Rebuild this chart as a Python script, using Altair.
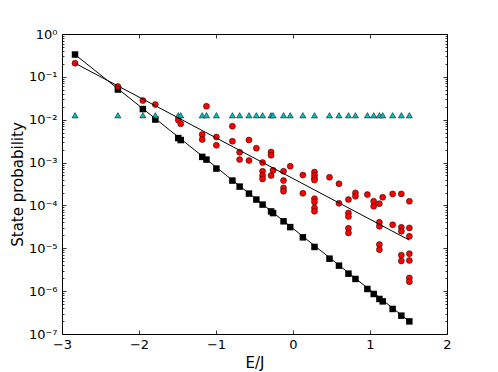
import altair as alt
import pandas as pd

# ---------------- data ----------------
energy = [-2.831, -2.274, -1.950, -1.788, -1.490, -1.458, -1.179, -1.124, -0.995, -0.787,
          -0.693, -0.572, -0.476, -0.395, -0.285, -0.259, -0.123, -0.036, 0.128, 0.279,
          0.474, 0.597, 0.720, 0.811, 0.966, 1.048, 1.122, 1.165, 1.294, 1.407, 1.511]
black_prob = [0.332, 0.0506, 0.01774, 0.01009, 0.00373, 0.00335, 0.001357, 0.001174, 7.24e-4, 3.80e-4,
              2.75e-4, 1.89e-4, 1.37e-4, 1.045e-4, 7.25e-5, 6.62e-5, 4.26e-5, 3.12e-5, 1.80e-5, 1.075e-5,
              5.73e-6, 3.93e-6, 2.56e-6, 1.925e-6, 1.124e-6, 8.59e-7, 6.57e-7, 5.77e-7, 3.84e-7, 2.68e-7, 1.97e-7]
tri_prob = [0.0127, 0.0127, 0.0127, 0.0127, 0.0127, 0.0127, 0.0127, 0.0127, 0.0127, 0.0127,
            0.0127, 0.0127, 0.0127, 0.0127, 0.0127, 0.0127, 0.0127, 0.0127, 0.0127, 0.0127,
            0.0127, 0.0127, 0.0127, 0.0127, 0.0127, 0.0127, 0.0127, 0.0127, 0.0127, 0.0127, 0.0127]

red_energy = [-2.831, -2.274, -1.950, -1.788, -1.490, -1.458,
              -1.179, -1.179, -1.124, -0.995, -0.995, -0.787, -0.787,
              -0.693, -0.693, -0.572, -0.572, -0.476,
              -0.395, -0.395, -0.395, -0.395, -0.285, -0.285, -0.285, -0.259,
              -0.123, -0.123, -0.123, -0.123, -0.036, 0.128, 0.128,
              0.279, 0.279, 0.279, 0.279, 0.279, 0.279, 0.279, 0.279,
              0.474, 0.597, 0.597, 0.720, 0.720, 0.720, 0.720, 0.720,
              0.811, 0.811, 0.966, 1.048, 1.048,
              1.122, 1.122, 1.122, 1.122, 1.122, 1.165, 1.294, 1.294,
              1.407, 1.407, 1.407, 1.407, 1.407,
              1.511, 1.511, 1.511, 1.511, 1.511, 1.511, 1.511]
red_prob = [0.208, 0.0594, 0.0280, 0.0226, 0.00982, 0.00800,
            0.00450, 0.00344, 0.0206, 0.00394, 0.00253, 0.00704, 0.00314,
            0.00174, 0.001174, 0.00335, 0.001113, 0.00216,
            0.00100, 6.26e-4, 4.97e-4, 4.16e-4, 0.00176, 0.00148, 4.97e-4, 6.61e-4,
            6.26e-4, 3.80e-4, 2.56e-4, 2.14e-4, 8.19e-4, 5.10e-4, 1.92e-4,
            6.00e-4, 5.10e-4, 4.39e-4, 3.90e-4, 1.44e-4, 1.21e-4, 8.75e-5, 7.29e-5,
            4.53e-4, 3.20e-4, 1.12e-4, 1.37e-4, 6.69e-5, 5.48e-5, 2.92e-5, 2.28e-5,
            1.96e-4, 1.63e-4, 1.79e-4, 1.25e-4, 9.54e-5,
            1.10e-4, 4.04e-5, 3.26e-5, 1.22e-5, 9.30e-6, 1.55e-4, 1.86e-4, 3.53e-5,
            1.86e-4, 3.08e-5, 2.49e-5, 6.92e-6, 5.07e-6,
            1.25e-4, 2.99e-5, 1.90e-5, 7.50e-6, 5.20e-6, 2.03e-6, 1.66e-6]

fit_energy = [-2.831, 1.511]
fit_black = [0.332, 1.97e-7]
fit_red = [0.208, 1.55e-5]

x_ticks = [-3, -2, -1, 0, 1, 2]
y_ticks = [1e0, 1e-1, 1e-2, 1e-3, 1e-4, 1e-5, 1e-6, 1e-7]
y_minor = [m * 10.0 ** k for k in range(-7, 0) for m in range(2, 10)]

# ---------------- chart ----------------
FONT = "DejaVu Sans"
xs = alt.Scale(domain=[-3, 2], nice=False, zero=False)
ys = alt.Scale(type="log", domain=[1e-7, 1], nice=False)

black_df = pd.DataFrame({"E": energy, "p": black_prob})
tri_df = pd.DataFrame({"E": energy, "p": tri_prob})
red_df = pd.DataFrame({"E": red_energy, "p": red_prob})
fitb_df = pd.DataFrame({"E": fit_energy, "p": fit_black})
fitr_df = pd.DataFrame({"E": fit_energy, "p": fit_red})

common = dict(domain=False, grid=False, tickColor="black", tickWidth=0.8)

sup = "['\u2070','\u207b\u00b9','\u207b\u00b2','\u207b\u00b3','\u207b\u2074','\u207b\u2075','\u207b\u2076','\u207b\u2077']"
ax_bottom = alt.Axis(orient="bottom", values=x_ticks, format="d", tickSize=alt.ExprRef("-4"),
                     labelPadding=8, labelFlush=False, labelOverlap=False,
                     labelFont=FONT, labelFontSize=13, labelColor="black",
                     title="E/J", titleFont=FONT, titleFontSize=15, titleFontWeight="normal",
                     titleColor="black", titleY=33, titleBaseline="alphabetic", **common)
ax_top = alt.Axis(orient="top", values=x_ticks, tickSize=alt.ExprRef("-4"), labels=False,
                  title=None, **common)
ax_left = alt.Axis(orient="left", values=y_ticks, tickSize=alt.ExprRef("-4"),
                   labelExpr="'10' + " + sup + "[round(-log(datum.value)/LN10)]",
                   labelPadding=9, labelFlush=False, labelOverlap=False,
                   labelFont=FONT, labelFontSize=13, labelColor="black",
                   title="State probability", titleFont=FONT, titleFontSize=15,
                   titleFontWeight="normal", titleColor="black",
                   titleX=-45, titleY=150, titleAngle=270, titleAlign="center",
                   titleBaseline="middle", **common)
ax_right = alt.Axis(orient="right", values=y_ticks, tickSize=alt.ExprRef("-4"), labels=False,
                    title=None, **common)
ax_left_minor = alt.Axis(orient="left", values=y_minor, tickSize=alt.ExprRef("-2"), labels=False,
                         title=None, **common)
ax_right_minor = alt.Axis(orient="right", values=y_minor, tickSize=alt.ExprRef("-2"), labels=False,
                          title=None, **common)

squares = alt.Chart(black_df).mark_square(size=42, color="black", opacity=1).encode(
    x=alt.X("E:Q", scale=xs, axis=ax_bottom),
    y=alt.Y("p:Q", scale=ys, axis=ax_left),
)
circles = alt.Chart(red_df).mark_circle(size=36, color="red", stroke="black",
                                        strokeWidth=0.5, opacity=1).encode(
    x=alt.X("E:Q", scale=xs, axis=ax_top),
    y=alt.Y("p:Q", scale=ys, axis=ax_right),
)
triangles = alt.Chart(tri_df).mark_point(shape="triangle-up", filled=True, fill="#00BFBF",
                                         stroke="black", strokeWidth=0.5, size=38,
                                         opacity=1).encode(
    x=alt.X("E:Q", scale=xs, axis=None),
    y=alt.Y("p:Q", scale=ys, axis=ax_left_minor),
)
line_b = alt.Chart(fitb_df).mark_line(color="black", strokeWidth=1).encode(
    x=alt.X("E:Q", scale=xs, axis=None),
    y=alt.Y("p:Q", scale=ys, axis=ax_right_minor),
)
line_r = alt.Chart(fitr_df).mark_line(color="black", strokeWidth=1).encode(
    x=alt.X("E:Q", scale=xs, axis=None),
    y=alt.Y("p:Q", scale=ys, axis=None),
)

chart = alt.layer(squares, circles, triangles, line_b, line_r).resolve_axis(
    x="independent", y="independent"
).properties(
    width=385, height=300,
    padding={"left": 54, "top": 26, "right": 40, "bottom": 38},
    autosize=alt.AutoSizeParams(type="none"),
    background="white",
).configure_view(stroke="black", strokeWidth=1)

chart.save("out.html", embed_options={"renderer": "svg", "actions": False})
